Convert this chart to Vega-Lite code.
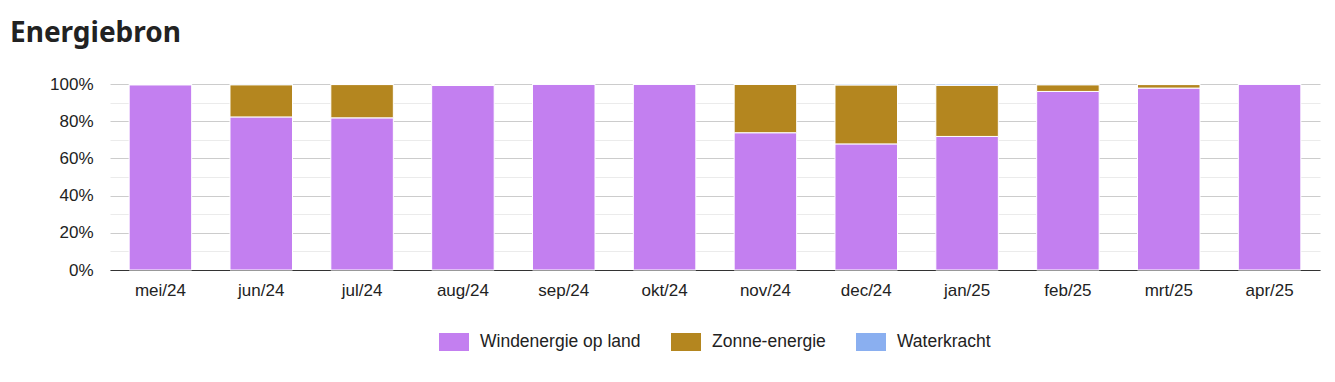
{
  "$schema": "https://vega.github.io/schema/vega-lite/v6.json",
  "autosize": "none",
  "width": 1210,
  "height": 186,
  "padding": {"left": 110, "top": 84, "right": 15, "bottom": 112},
  "background": "white",
  "title": {
    "text": "Energiebron",
    "anchor": "start",
    "frame": "group",
    "dx": -100,
    "offset": 27,
    "font": "Noto Sans",
    "fontSize": 28,
    "fontWeight": "bold",
    "color": "#222222"
  },
  "data": {
    "values": [
      {"maand": "mei/24", "bron": "Windenergie op land", "o": 1, "pct": 99.6},
      {"maand": "mei/24", "bron": "Zonne-energie", "o": 2, "pct": 0.1},
      {"maand": "mei/24", "bron": "Waterkracht", "o": 3, "pct": 0.3},
      {"maand": "jun/24", "bron": "Windenergie op land", "o": 1, "pct": 82.3},
      {"maand": "jun/24", "bron": "Zonne-energie", "o": 2, "pct": 17.3},
      {"maand": "jun/24", "bron": "Waterkracht", "o": 3, "pct": 0.4},
      {"maand": "jul/24", "bron": "Windenergie op land", "o": 1, "pct": 81.8},
      {"maand": "jul/24", "bron": "Zonne-energie", "o": 2, "pct": 17.9},
      {"maand": "jul/24", "bron": "Waterkracht", "o": 3, "pct": 0.3},
      {"maand": "aug/24", "bron": "Windenergie op land", "o": 1, "pct": 99.2},
      {"maand": "aug/24", "bron": "Zonne-energie", "o": 2, "pct": 0.6},
      {"maand": "aug/24", "bron": "Waterkracht", "o": 3, "pct": 0.2},
      {"maand": "sep/24", "bron": "Windenergie op land", "o": 1, "pct": 99.8},
      {"maand": "sep/24", "bron": "Zonne-energie", "o": 2, "pct": 0.1},
      {"maand": "sep/24", "bron": "Waterkracht", "o": 3, "pct": 0.1},
      {"maand": "okt/24", "bron": "Windenergie op land", "o": 1, "pct": 99.8},
      {"maand": "okt/24", "bron": "Zonne-energie", "o": 2, "pct": 0.1},
      {"maand": "okt/24", "bron": "Waterkracht", "o": 3, "pct": 0.1},
      {"maand": "nov/24", "bron": "Windenergie op land", "o": 1, "pct": 73.8},
      {"maand": "nov/24", "bron": "Zonne-energie", "o": 2, "pct": 26.0},
      {"maand": "nov/24", "bron": "Waterkracht", "o": 3, "pct": 0.2},
      {"maand": "dec/24", "bron": "Windenergie op land", "o": 1, "pct": 67.8},
      {"maand": "dec/24", "bron": "Zonne-energie", "o": 2, "pct": 31.7},
      {"maand": "dec/24", "bron": "Waterkracht", "o": 3, "pct": 0.5},
      {"maand": "jan/25", "bron": "Windenergie op land", "o": 1, "pct": 71.8},
      {"maand": "jan/25", "bron": "Zonne-energie", "o": 2, "pct": 27.5},
      {"maand": "jan/25", "bron": "Waterkracht", "o": 3, "pct": 0.7},
      {"maand": "feb/25", "bron": "Windenergie op land", "o": 1, "pct": 96.0},
      {"maand": "feb/25", "bron": "Zonne-energie", "o": 2, "pct": 3.6},
      {"maand": "feb/25", "bron": "Waterkracht", "o": 3, "pct": 0.4},
      {"maand": "mrt/25", "bron": "Windenergie op land", "o": 1, "pct": 97.8},
      {"maand": "mrt/25", "bron": "Zonne-energie", "o": 2, "pct": 1.9},
      {"maand": "mrt/25", "bron": "Waterkracht", "o": 3, "pct": 0.3},
      {"maand": "apr/25", "bron": "Windenergie op land", "o": 1, "pct": 99.8},
      {"maand": "apr/25", "bron": "Zonne-energie", "o": 2, "pct": 0.1},
      {"maand": "apr/25", "bron": "Waterkracht", "o": 3, "pct": 0.1}
    ]
  },
  "mark": {"type": "bar", "stroke": "white", "strokeWidth": 1},
  "encoding": {
    "x": {
      "field": "maand",
      "type": "nominal",
      "sort": null,
      "scale": {"paddingInner": 0.38, "paddingOuter": 0.19},
      "axis": {
        "title": null,
        "labelAngle": 0,
        "ticks": false,
        "labelPadding": 12,
        "labelFont": "Liberation Sans",
        "labelFontSize": 17,
        "labelColor": "#222222",
        "domainColor": "#333333",
        "domainWidth": 1.2,
        "grid": false
      }
    },
    "y": {
      "field": "pct",
      "type": "quantitative",
      "stack": "zero",
      "scale": {"domain": [0, 100], "nice": false},
      "axis": {
        "title": null,
        "values": [0, 10, 20, 30, 40, 50, 60, 70, 80, 90, 100],
        "labelExpr": "round(datum.value) % 20 == 0 ? datum.value + '%' : ''",
        "ticks": false,
        "domain": false,
        "labelPadding": 17,
        "labelFont": "Liberation Sans",
        "labelFontSize": 17,
        "labelColor": "#222222",
        "grid": true,
        "gridColor": {"condition": {"test": "round(datum.value) % 20 == 0", "value": "#cccccc"}, "value": "#ebebeb"},
        "gridWidth": 1
      }
    },
    "color": {
      "field": "bron",
      "type": "nominal",
      "sort": ["Windenergie op land", "Zonne-energie", "Waterkracht"],
      "scale": {
        "domain": ["Windenergie op land", "Zonne-energie", "Waterkracht"],
        "range": ["#c37ff0", "#b4861f", "#8aaff0"]
      },
      "legend": {
        "title": null,
        "orient": "bottom",
        "direction": "horizontal",
        "offset": 29,
        "symbolType": "M-1,-0.6H1V0.6H-1Z",
        "symbolSize": 900,
        "symbolStrokeWidth": 0,
        "symbolOpacity": 1,
        "labelFont": "Liberation Sans",
        "labelFontSize": 17.5,
        "labelColor": "#222222",
        "labelOffset": 11,
        "columnPadding": 30,
        "labelLimit": 300
      }
    },
    "order": {"field": "o", "type": "quantitative", "sort": "ascending"}
  },
  "config": {
    "view": {"stroke": null},
    "legend": {"layout": {"bottom": {"anchor": "middle"}}}
  }
}
